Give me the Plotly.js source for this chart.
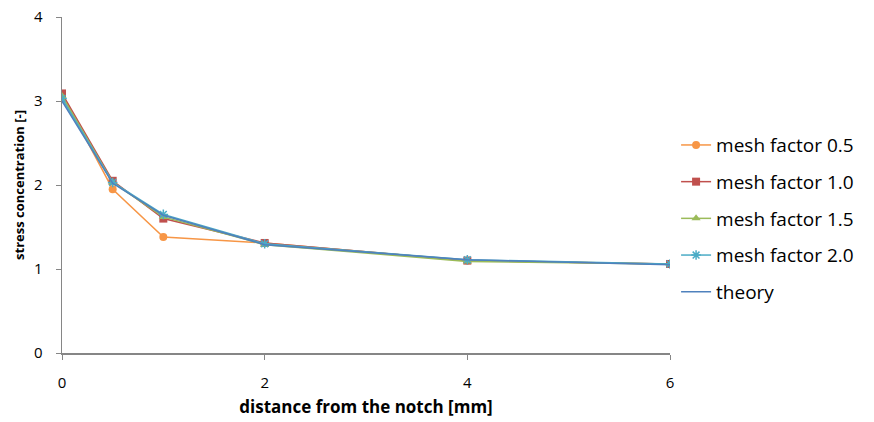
<!DOCTYPE html>
<html>
<head>
<meta charset="utf-8">
<script src="https://cdn.plot.ly/plotly-3.0.1.min.js"></script>
<style>body{margin:0;padding:0;background:#fff;} #chart{width:874px;height:422px;}</style>
</head>
<body>
<div id="chart"></div>
<script>
var distance = [0, 0.5, 1, 2, 4, 6];
var mesh05 = [3.08, 1.95, 1.38, 1.31, 1.10, 1.06];
var mesh10 = [3.09, 2.05, 1.60, 1.31, 1.10, 1.06];
var mesh15 = [3.06, 2.03, 1.62, 1.29, 1.09, 1.06];
var mesh20 = [3.03, 2.03, 1.65, 1.30, 1.11, 1.06];
var theory = [3.00, 2.02, 1.64, 1.29, 1.11, 1.05];
var names = ["mesh factor 0.5", "mesh factor 1.0", "mesh factor 1.5", "mesh factor 2.0", "theory"];

var traces = [
  {x: distance, y: mesh05, name: names[0], mode: "lines+markers",
   line: {color: "#F79646", width: 1.5},
   marker: {symbol: "circle", size: 8, color: "#F79646"}},
  {x: distance, y: mesh10, name: names[1], mode: "lines+markers",
   line: {color: "#C0504D", width: 1.5},
   marker: {symbol: "square", size: 8, color: "#C0504D"}},
  {x: distance, y: mesh15, name: names[2], mode: "lines+markers",
   line: {color: "#9BBB59", width: 1.5},
   marker: {symbol: "triangle-up", size: 8, color: "#9BBB59"}},
  {x: distance, y: mesh20, name: names[3], mode: "lines+markers",
   line: {color: "#4BACC6", width: 1.5},
   marker: {symbol: "asterisk-open", size: 8, color: "#4BACC6", line: {color: "#4BACC6", width: 1.5}}},
  {x: distance, y: theory, name: names[4], mode: "lines",
   line: {color: "#4F81BD", width: 1.5}}
];
traces.forEach(function(t, i){ t.legendgroup = "g" + i; });

var layout = {
  width: 874, height: 422,
  margin: {l: 62, r: 204, t: 17, b: 69},
  paper_bgcolor: "#ffffff", plot_bgcolor: "#ffffff",
  font: {family: "'Open Sans', Lato, sans-serif", color: "#000000"},
  showlegend: true,
  legend: {
    x: 1.01, xanchor: "left", y: 0.40, yanchor: "middle",
    font: {size: 19, color: "#000000"},
    tracegroupgap: 9, itemwidth: 30,
    bgcolor: "rgba(0,0,0,0)"
  },
  xaxis: {
    range: [0, 6], tickvals: [0, 2, 4, 6], ticktext: ["0", "2", "4", "6"],
    showgrid: false, zeroline: false, showline: true,
    linecolor: "#868686", linewidth: 1.5,
    ticks: "outside", ticklen: 5, tickcolor: "#868686",
    ticklabelstandoff: 10,
    tickfont: {size: 15, color: "#000000"},
    title: {text: "distance from the notch [mm]", font: {size: 17, color: "#000000", weight: "bold"}, standoff: 10}
  },
  yaxis: {
    range: [0, 4], tickvals: [0, 1, 2, 3, 4],
    showgrid: false, zeroline: false, showline: true,
    linecolor: "#868686", linewidth: 1.5,
    ticks: "outside", ticklen: 5, tickcolor: "#868686",
    ticklabelstandoff: 10,
    tickfont: {size: 15, color: "#000000"},
    title: {text: "stress concentration [-]", font: {size: 13, color: "#000000", weight: "bold"}, standoff: 6}
  }
};

Plotly.newPlot("chart", traces, layout, {displayModeBar: false, staticPlot: true});
</script>
</body>
</html>
